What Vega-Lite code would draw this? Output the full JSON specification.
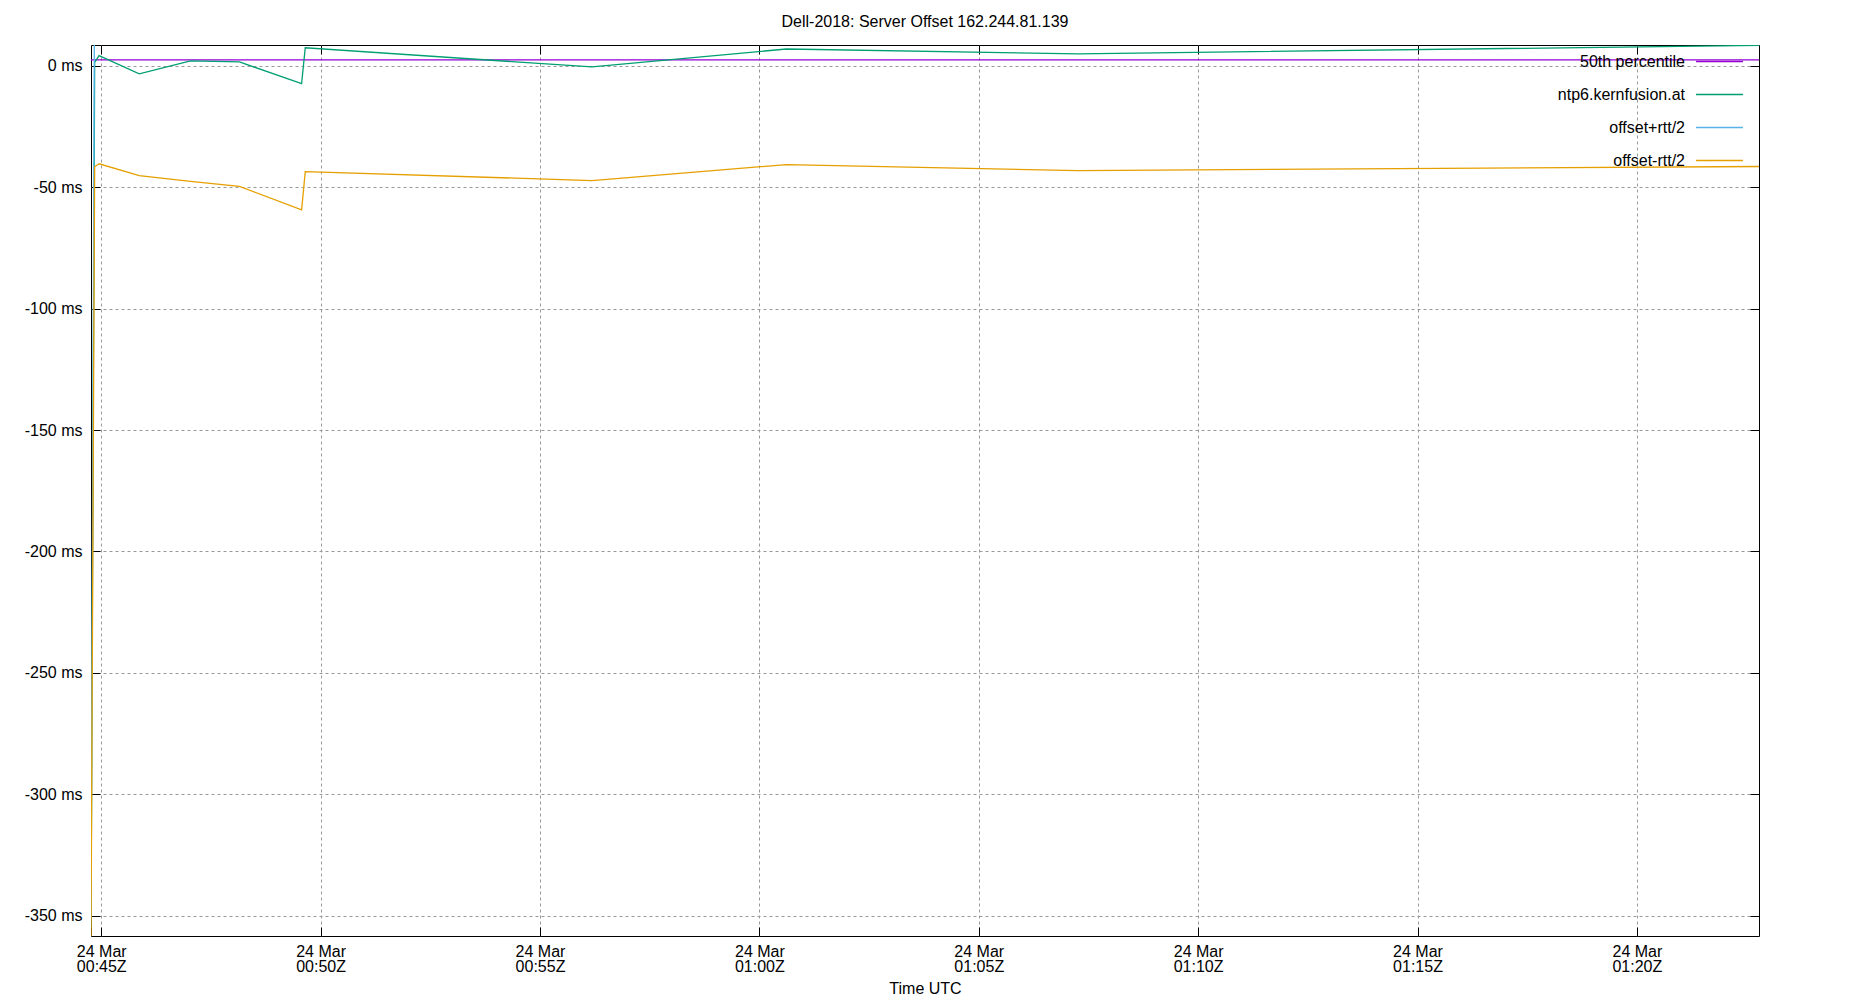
{
  "$schema": "https://vega.github.io/schema/vega-lite/v6.json",
  "width": 1668,
  "height": 891,
  "autosize": "none",
  "padding": {"left": 91, "top": 45, "right": 91, "bottom": 64},
  "background": "white",
  "config": {
    "font": "Liberation Sans",
    "view": {"stroke": "#000", "strokeWidth": 1}
  },
  "title": {
    "text": "Dell-2018: Server Offset 162.244.81.139",
    "fontSize": 16,
    "fontWeight": "normal",
    "color": "#000",
    "anchor": "middle",
    "offset": 7
  },
  "data": {
    "values": [
      {"t": "2024-03-24T00:44:46Z", "v": 2.5, "s": "50th percentile"},
      {"t": "2024-03-24T01:22:47Z", "v": 2.5, "s": "50th percentile"},
      {"t": "2024-03-24T00:44:46Z", "v": -355, "s": "ntp6.kernfusion.at"},
      {"t": "2024-03-24T00:44:51Z", "v": 1.5, "s": "ntp6.kernfusion.at"},
      {"t": "2024-03-24T00:44:57Z", "v": 4.3, "s": "ntp6.kernfusion.at"},
      {"t": "2024-03-24T00:45:52Z", "v": -3.2, "s": "ntp6.kernfusion.at"},
      {"t": "2024-03-24T00:47:02Z", "v": 2.1, "s": "ntp6.kernfusion.at"},
      {"t": "2024-03-24T00:48:09Z", "v": 1.7, "s": "ntp6.kernfusion.at"},
      {"t": "2024-03-24T00:49:34Z", "v": -7.3, "s": "ntp6.kernfusion.at"},
      {"t": "2024-03-24T00:49:39Z", "v": 7.5, "s": "ntp6.kernfusion.at"},
      {"t": "2024-03-24T00:56:11Z", "v": -0.4, "s": "ntp6.kernfusion.at"},
      {"t": "2024-03-24T01:00:37Z", "v": 7.0, "s": "ntp6.kernfusion.at"},
      {"t": "2024-03-24T01:07:16Z", "v": 5.0, "s": "ntp6.kernfusion.at"},
      {"t": "2024-03-24T01:22:47Z", "v": 8.5, "s": "ntp6.kernfusion.at"},
      {"t": "2024-03-24T00:44:46Z", "v": -351.6, "s": "offset+rtt/2"},
      {"t": "2024-03-24T00:44:51Z", "v": 44.5, "s": "offset+rtt/2"},
      {"t": "2024-03-24T00:44:57Z", "v": 48.9, "s": "offset+rtt/2"},
      {"t": "2024-03-24T00:45:52Z", "v": 38.8, "s": "offset+rtt/2"},
      {"t": "2024-03-24T00:47:02Z", "v": 51.7, "s": "offset+rtt/2"},
      {"t": "2024-03-24T00:48:09Z", "v": 53.0, "s": "offset+rtt/2"},
      {"t": "2024-03-24T00:49:34Z", "v": 44.7, "s": "offset+rtt/2"},
      {"t": "2024-03-24T00:49:39Z", "v": 58.5, "s": "offset+rtt/2"},
      {"t": "2024-03-24T00:56:11Z", "v": 46.4, "s": "offset+rtt/2"},
      {"t": "2024-03-24T01:00:37Z", "v": 54.6, "s": "offset+rtt/2"},
      {"t": "2024-03-24T01:07:16Z", "v": 53.1, "s": "offset+rtt/2"},
      {"t": "2024-03-24T01:22:47Z", "v": 58.4, "s": "offset+rtt/2"},
      {"t": "2024-03-24T00:44:46Z", "v": -358.4, "s": "offset-rtt/2"},
      {"t": "2024-03-24T00:44:51Z", "v": -41.5, "s": "offset-rtt/2"},
      {"t": "2024-03-24T00:44:57Z", "v": -40.3, "s": "offset-rtt/2"},
      {"t": "2024-03-24T00:45:52Z", "v": -45.2, "s": "offset-rtt/2"},
      {"t": "2024-03-24T00:47:02Z", "v": -47.5, "s": "offset-rtt/2"},
      {"t": "2024-03-24T00:48:09Z", "v": -49.6, "s": "offset-rtt/2"},
      {"t": "2024-03-24T00:49:34Z", "v": -59.3, "s": "offset-rtt/2"},
      {"t": "2024-03-24T00:49:39Z", "v": -43.5, "s": "offset-rtt/2"},
      {"t": "2024-03-24T00:56:11Z", "v": -47.2, "s": "offset-rtt/2"},
      {"t": "2024-03-24T01:00:37Z", "v": -40.6, "s": "offset-rtt/2"},
      {"t": "2024-03-24T01:07:16Z", "v": -43.1, "s": "offset-rtt/2"},
      {"t": "2024-03-24T01:22:47Z", "v": -41.4, "s": "offset-rtt/2"}
    ]
  },
  "encoding": {
    "color": {
      "field": "s",
      "type": "nominal",
      "scale": {
        "domain": ["50th percentile", "ntp6.kernfusion.at", "offset+rtt/2", "offset-rtt/2"],
        "range": ["#9400d3", "#009e73", "#56b4e9", "#e69f00"]
      },
      "legend": {
        "title": null,
        "orient": "none",
        "legendX": 1604,
        "legendY": -8,
        "padding": 0,
        "rowPadding": -52,
        "symbolType": "stroke",
        "symbolSize": 2200,
        "symbolStrokeWidth": 1.3,
        "labelAlign": "right",
        "labelOffset": -59,
        "labelFontSize": 16,
        "labelColor": "#000"
      }
    }
  },
  "layer": [
    {
      "transform": [{"filter": "datum.s == '50th percentile'"}],
      "mark": {"type": "line", "strokeWidth": 1.3, "clip": true},
      "encoding": {
        "x": {
          "field": "t",
          "type": "temporal",
          "scale": {"type": "utc", "domain": [1711241086000, 1711243367000], "nice": false},
          "axis": {
            "orient": "top",
            "title": null,
            "labels": false,
            "values": [1711241100000, 1711241400000, 1711241700000, 1711242000000, 1711242300000, 1711242600000, 1711242900000, 1711243200000],
            "grid": false,
            "domain": false,
            "tickColor": "#000",
            "tickSize": -9
          }
        },
        "y": {
          "field": "v",
          "type": "quantitative",
          "scale": {"domain": [-358.4, 8.65], "nice": false, "zero": false},
          "axis": {
            "orient": "right",
            "title": null,
            "labels": false,
            "grid": false,
            "domain": false,
            "tickColor": "#000",
            "tickSize": -9,
            "values": [-350, -300, -250, -200, -150, -100, -50, 0]
          }
        }
      }
    },
    {
      "transform": [{"filter": "datum.s != '50th percentile'"}],
      "mark": {"type": "line", "strokeWidth": 1.3, "clip": true},
      "encoding": {
        "x": {
          "field": "t",
          "type": "temporal",
          "scale": {"type": "utc", "domain": [1711241086000, 1711243367000], "nice": false},
          "axis": {
            "orient": "bottom",
            "title": "Time UTC",
            "titleFontSize": 16,
            "titleFontWeight": "normal",
            "titleColor": "#000",
            "titlePadding": 6,
            "values": [1711241100000, 1711241400000, 1711241700000, 1711242000000, 1711242300000, 1711242600000, 1711242900000, 1711243200000],
            "labelExpr": "[utcFormat(datum.value, '%d %b'), utcFormat(datum.value, '%H:%MZ')]",
            "labelFontSize": 16,
            "labelLineHeight": 15,
            "labelColor": "#000",
            "labelPadding": 16,
            "labelFlush": false,
            "labelOverlap": false,
            "grid": true,
            "gridColor": "#999",
            "gridDash": [3, 3],
            "domain": false,
            "tickColor": "#000",
            "tickSize": -9
          }
        },
        "y": {
          "field": "v",
          "type": "quantitative",
          "scale": {"domain": [-358.4, 8.65], "nice": false, "zero": false},
          "axis": {
            "orient": "left",
            "title": null,
            "labelExpr": "datum.value + ' ms'",
            "labelFontSize": 16,
            "labelColor": "#000",
            "labelPadding": 18,
            "grid": true,
            "gridColor": "#999",
            "gridDash": [3, 3],
            "domain": false,
            "tickColor": "#000",
            "tickSize": -9,
            "values": [-350, -300, -250, -200, -150, -100, -50, 0]
          }
        }
      }
    }
  ],
  "resolve": {"axis": {"x": "independent", "y": "independent"}}
}
